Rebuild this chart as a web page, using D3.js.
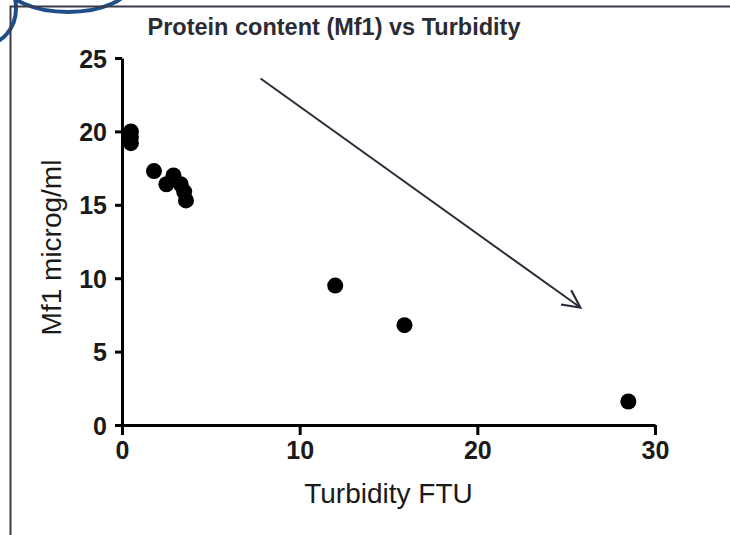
<!DOCTYPE html>
<html>
<head>
<meta charset="utf-8">
<script src="https://cdn.jsdelivr.net/npm/d3@7"></script>
<style>
  body { margin: 0; background: #fff; }
  svg { display: block; font-family: Arial, "Liberation Sans", Helvetica, sans-serif; }
</style>
</head>
<body>
<svg id="chart"></svg>
<script>
// turbidity (FTU) and Mf1 protein (microg/ml)
const turbidity = [0.5, 0.5, 0.5, 1.8, 2.5, 2.9, 3.3, 3.5, 3.6, 12.0, 15.9, 28.5];
const mf1 = [20.0, 19.6, 19.2, 17.3, 16.4, 17.0, 16.4, 15.9, 15.3, 9.5, 6.8, 1.6];

const xTicks = [0, 10, 20, 30];
const yTicks = [0, 5, 10, 15, 20, 25];

// trend arrow, in data units: [x, y] start and end
const arrowStart = [7.8, 23.6];
const arrowEnd = [25.8, 8.0];

const W = 730, H = 535;
const margin = { top: 58, right: 75, bottom: 110, left: 122 };
const width = W - margin.left - margin.right,
      height = H - margin.top - margin.bottom;

const svg = d3.select("#chart").attr("width", W).attr("height", H);

// partial logo in the corner
const logo = svg.append("g").attr("fill", "none").attr("stroke", "#1d4e89").attr("stroke-width", 4);
logo.append("ellipse").attr("cx", 68).attr("cy", -16).attr("rx", 62).attr("ry", 28);
logo.append("ellipse").attr("cx", -14).attr("cy", 8).attr("rx", 30).attr("ry", 36);

// frame
svg.append("path")
    .attr("d", `M10.5,${H} V6.5 H${W}`)
    .attr("fill", "none")
    .attr("stroke", "#3a3a48")
    .attr("stroke-width", 2);

svg.append("text")
    .attr("x", 334)
    .attr("y", 35)
    .attr("text-anchor", "middle")
    .attr("font-size", 23.5)
    .attr("font-weight", "bold")
    .attr("fill", "#2b2b33")
    .text("Protein content (Mf1) vs Turbidity");

const g = svg.append("g").attr("transform", `translate(${margin.left},${margin.top})`);

const x = d3.scaleLinear().domain([0, 30]).range([0, width]);
const y = d3.scaleLinear().domain([0, 25]).range([height, 0]);

const xAxis = g.append("g")
    .attr("transform", `translate(0,${height})`)
    .call(d3.axisBottom(x).tickValues(xTicks).tickSize(10).tickSizeOuter(0).tickPadding(6));

const yAxis = g.append("g")
    .call(d3.axisLeft(y).tickValues(yTicks).tickSize(7).tickSizeOuter(0).tickPadding(8));

[xAxis, yAxis].forEach(a => {
    a.select(".domain").attr("stroke", "#000").attr("stroke-width", 3);
    a.selectAll(".tick line").attr("stroke", "#000").attr("stroke-width", 3);
    a.selectAll(".tick text")
        .attr("font-size", 25)
        .attr("font-weight", "bold")
        .attr("font-family", "Arial, 'Liberation Sans', sans-serif")
        .attr("fill", "#1a1a1a");
});
yAxis.selectAll(".tick text").attr("dy", "0.36em");

g.append("text")
    .attr("x", width / 2)
    .attr("y", height + 78)
    .attr("text-anchor", "middle")
    .attr("font-size", 28)
    .attr("fill", "#1a1a1a")
    .text("Turbidity FTU");

g.append("text")
    .attr("transform", `translate(${61 - margin.left},${height / 2 + 6})rotate(-90)`)
    .attr("text-anchor", "middle")
    .attr("font-size", 28)
    .attr("fill", "#1a1a1a")
    .text("Mf1 microg/ml");

const points = turbidity.map((t, i) => ({ t, v: mf1[i] }));

g.selectAll(".dot")
    .data(points)
    .enter()
    .append("circle")
    .attr("class", "dot")
    .attr("cx", d => x(d.t))
    .attr("cy", d => y(d.v))
    .attr("r", 8)
    .attr("fill", "#000");

// arrow
svg.append("defs").append("marker")
    .attr("id", "head")
    .attr("viewBox", "0 0 20 20")
    .attr("refX", 18)
    .attr("refY", 10)
    .attr("markerWidth", 22)
    .attr("markerHeight", 22)
    .attr("markerUnits", "userSpaceOnUse")
    .attr("orient", "auto")
    .append("path")
    .attr("d", "M2,2 L18,10 L2,18")
    .attr("fill", "none")
    .attr("stroke", "#2a2b3a")
    .attr("stroke-width", 2);

g.append("line")
    .attr("x1", x(arrowStart[0]))
    .attr("y1", y(arrowStart[1]))
    .attr("x2", x(arrowEnd[0]))
    .attr("y2", y(arrowEnd[1]))
    .attr("stroke", "#2a2b3a")
    .attr("stroke-width", 2)
    .attr("marker-end", "url(#head)");
</script>
</body>
</html>
